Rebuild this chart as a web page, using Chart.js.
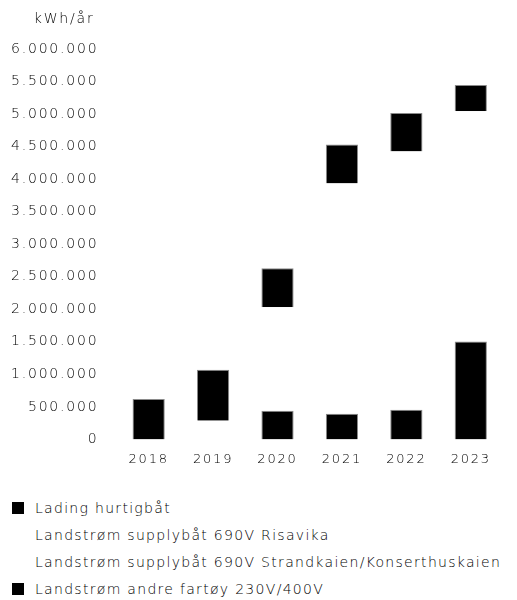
<!DOCTYPE html>
<html>
<head>
<meta charset="utf-8">
<script src="https://cdn.jsdelivr.net/npm/chart.js@4.4.1/dist/chart.umd.min.js"></script>
<style>
    body { margin: 0; background: #fff; }
    #wrap { position: relative; width: 517px; height: 480px; }
    #legend { position: absolute; left: 12px; top: 494px; font-family: 'DejaVu Sans', sans-serif; font-weight: 200; font-size: 14px; letter-spacing: 1.3px; color: #000; }
    .item { height: 27px; display: flex; align-items: center; white-space: nowrap; }
    .box { display: inline-block; width: 12px; height: 12px; margin-right: 11px; }
</style>
</head>
<body>
<div id="wrap"><canvas id="energyChart"></canvas></div>
<div id="legend"></div>
<script>
const years = ['2018', '2019', '2020', '2021', '2022', '2023'];
const hurtigbat = [0, 0, 442000, 395000, 457000, 1503000];
const risavika = [0, 288000, 590000, 1040000, 1170000, 1040000];
const strandkaien = [0, 0, 999000, 2499000, 2799000, 2499000];
const andreFartoy = [620000, 784000, 600000, 600000, 589000, 404000];
const unitLabel = 'kWh/år';

const fontFamily = "'DejaVu Sans', sans-serif";
const spacing = '1.8px';
const textColor = '#000';

function formatNumber(v) {
    return String(v).replace(/\B(?=(\d{3})+(?!\d))/g, '.');
}

// letter spacing so the text looks closer to the wide original font
const spacingPlugin = {
    id: 'spacing',
    beforeLayout(chart) { chart.ctx.letterSpacing = spacing; },
    beforeDraw(chart) { chart.ctx.letterSpacing = spacing; },
    afterDraw(chart) {
        const ctx = chart.ctx;
        const y = chart.scales.y;
        ctx.save();
        ctx.letterSpacing = spacing;
        ctx.font = '200 14px ' + fontFamily;
        ctx.fillStyle = textColor;
        ctx.textAlign = 'right';
        ctx.textBaseline = 'alphabetic';
        ctx.fillText(unitLabel, y.right - 22, 23);
        ctx.restore();
    }
};

const energyCtx = document.getElementById('energyChart');

const energyChart = new Chart(energyCtx, {
    type: 'bar',
    data: {
        labels: years,
        datasets: [
            { label: 'Lading hurtigbåt', data: hurtigbat, backgroundColor: '#000', borderColor: '#8a8a8a', borderWidth: 1 },
            { label: 'Landstrøm supplybåt 690V Risavika', data: risavika, backgroundColor: '#fff', borderColor: '#fff', borderWidth: 0 },
            { label: 'Landstrøm supplybåt 690V Strandkaien/Konserthuskaien', data: strandkaien, backgroundColor: '#fff', borderColor: '#fff', borderWidth: 0 },
            { label: 'Landstrøm andre fartøy 230V/400V', data: andreFartoy, backgroundColor: '#000', borderColor: '#8a8a8a', borderWidth: 1 }
        ]
    },
    options: {
        responsive: true,
        maintainAspectRatio: false,
        animation: false,
        barPercentage: 0.5,
        categoryPercentage: 1,
        layout: {
            padding: { top: 49, right: 14, bottom: 1, left: 0 }
        },
        scales: {
            x: {
                stacked: true,
                grid: { display: false, drawTicks: false },
                border: { display: false },
                ticks: {
                    color: textColor,
                    padding: 12,
                    font: { family: fontFamily, size: 13, weight: 200 }
                }
            },
            y: {
                stacked: true,
                min: 0,
                max: 6000000,
                grid: { display: false, drawTicks: false },
                border: { display: false },
                afterFit: function (scale) {
                    scale.width -= 7;
                },
                ticks: {
                    stepSize: 500000,
                    color: textColor,
                    padding: 18,
                    font: { family: fontFamily, size: 14, weight: 200 },
                    callback: function (value) {
                        return formatNumber(value);
                    }
                }
            }
        },
        plugins: {
            legend: { display: false },
            tooltip: { enabled: false }
        }
    },
    plugins: [spacingPlugin]
});

// legend below the chart, one item per line
const legendEl = document.getElementById('legend');
energyChart.data.datasets.forEach((ds) => {
    const row = document.createElement('div');
    row.className = 'item';
    const box = document.createElement('span');
    box.className = 'box';
    box.style.background = ds.backgroundColor;
    const txt = document.createElement('span');
    txt.textContent = ds.label;
    row.appendChild(box);
    row.appendChild(txt);
    legendEl.appendChild(row);
});
</script>
</body>
</html>
